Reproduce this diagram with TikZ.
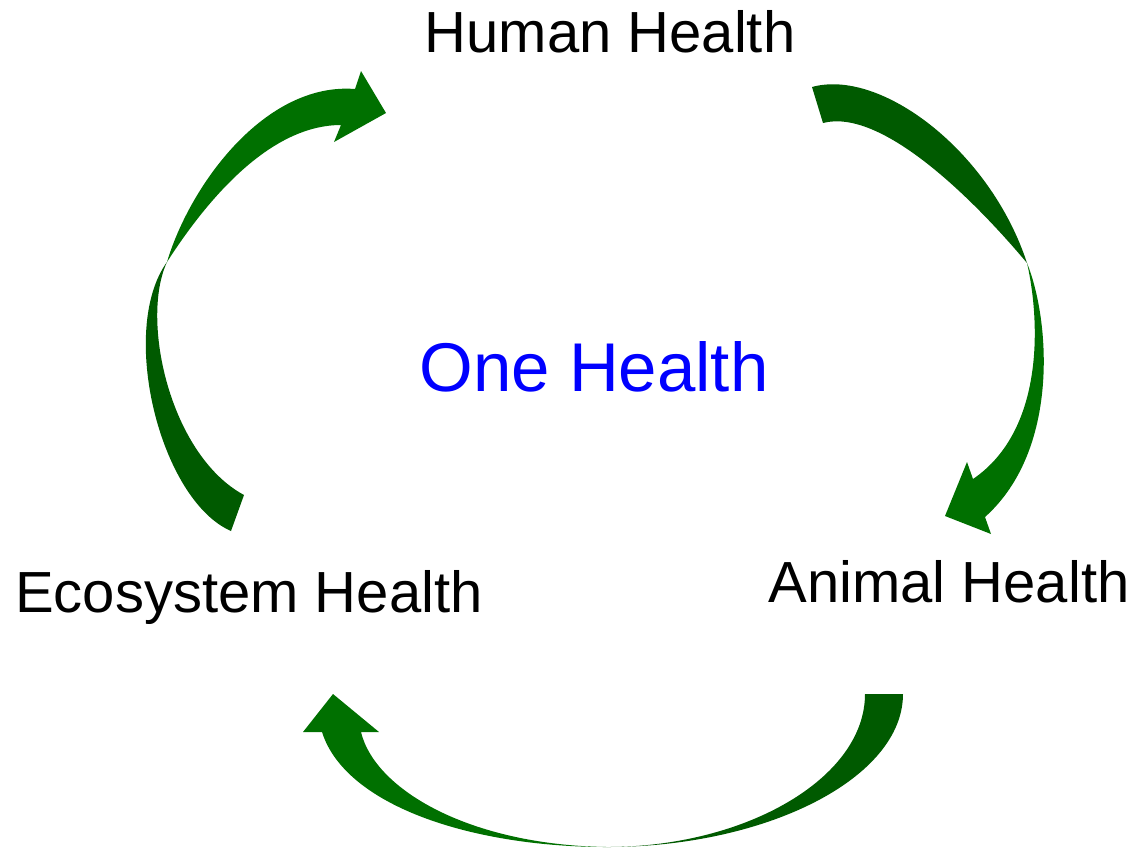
\documentclass[tikz,border=0pt]{standalone}
\usepackage{fontspec}
\setmainfont{Liberation Sans}
\definecolor{taildark}{RGB}{0,90,0}
\definecolor{headgreen}{RGB}{0,112,0}
\definecolor{onehealth}{RGB}{0,0,255}
\tikzset{
  label/.style={anchor=base,inner sep=0pt,font=\fontsize{29}{35}\selectfont},
  tailpart/.style={fill=taildark,draw=none},
  headpart/.style={fill=headgreen,draw=none}
}

\begin{document}
\begin{tikzpicture}[x=0.5pt,y=-0.5pt]
    \useasboundingbox (0,0) rectangle (1136,848);

    % 标签
    \node[label] (human) at (610,52) {Human Health};
    \node[label] (animal) at (949,602) {Animal Health};
    \node[label] (eco) at (249,612.5) {Ecosystem Health};
    \node[label,font=\fontsize{34.5}{41}\selectfont,text=onehealth] (one) at (594,391) {One Health};

    % 交叉点
    \coordinate (cleft) at (167,262);
    \coordinate (cright) at (1027,263);
    \coordinate (cbottom) at (607,847);

    % 左箭头: Ecosystem -> Human
    \fill[tailpart] (cleft) .. controls (118,330) and (160,500) .. (231,531)
        -- (244,495) .. controls (170,455) and (140,320) .. (cleft);
    \fill[headpart] (cleft) .. controls (190,185) and (265,82) .. (355,89)
        -- (361,71) -- (386,113) -- (334,142) -- (341,125)
        .. controls (272,125) and (210,195) .. (cleft);

    % 右箭头: Human -> Animal
    \fill[tailpart] (cright) .. controls (990,150) and (880,68) .. (812,87)
        -- (823,123) .. controls (880,108) and (970,195) .. (cright);
    \fill[headpart] (cright) .. controls (1050,320) and (1060,450) .. (985,517)
        -- (991,534) -- (945,516) -- (967,462) -- (973,479)
        .. controls (1045,430) and (1040,320) .. (cright);

    % 下箭头: Animal -> Ecosystem
    \fill[tailpart] (cbottom) .. controls (767,847) and (903,778) .. (903,694)
        -- (865,694) .. controls (865,778) and (746,847) .. (cbottom);
    \fill[headpart] (cbottom) .. controls (470,847) and (345,805) .. (322,732)
        -- (303,732) -- (333,694) -- (379,732) -- (361,732)
        .. controls (375,790) and (470,845) .. (cbottom);
\end{tikzpicture}
\end{document}
